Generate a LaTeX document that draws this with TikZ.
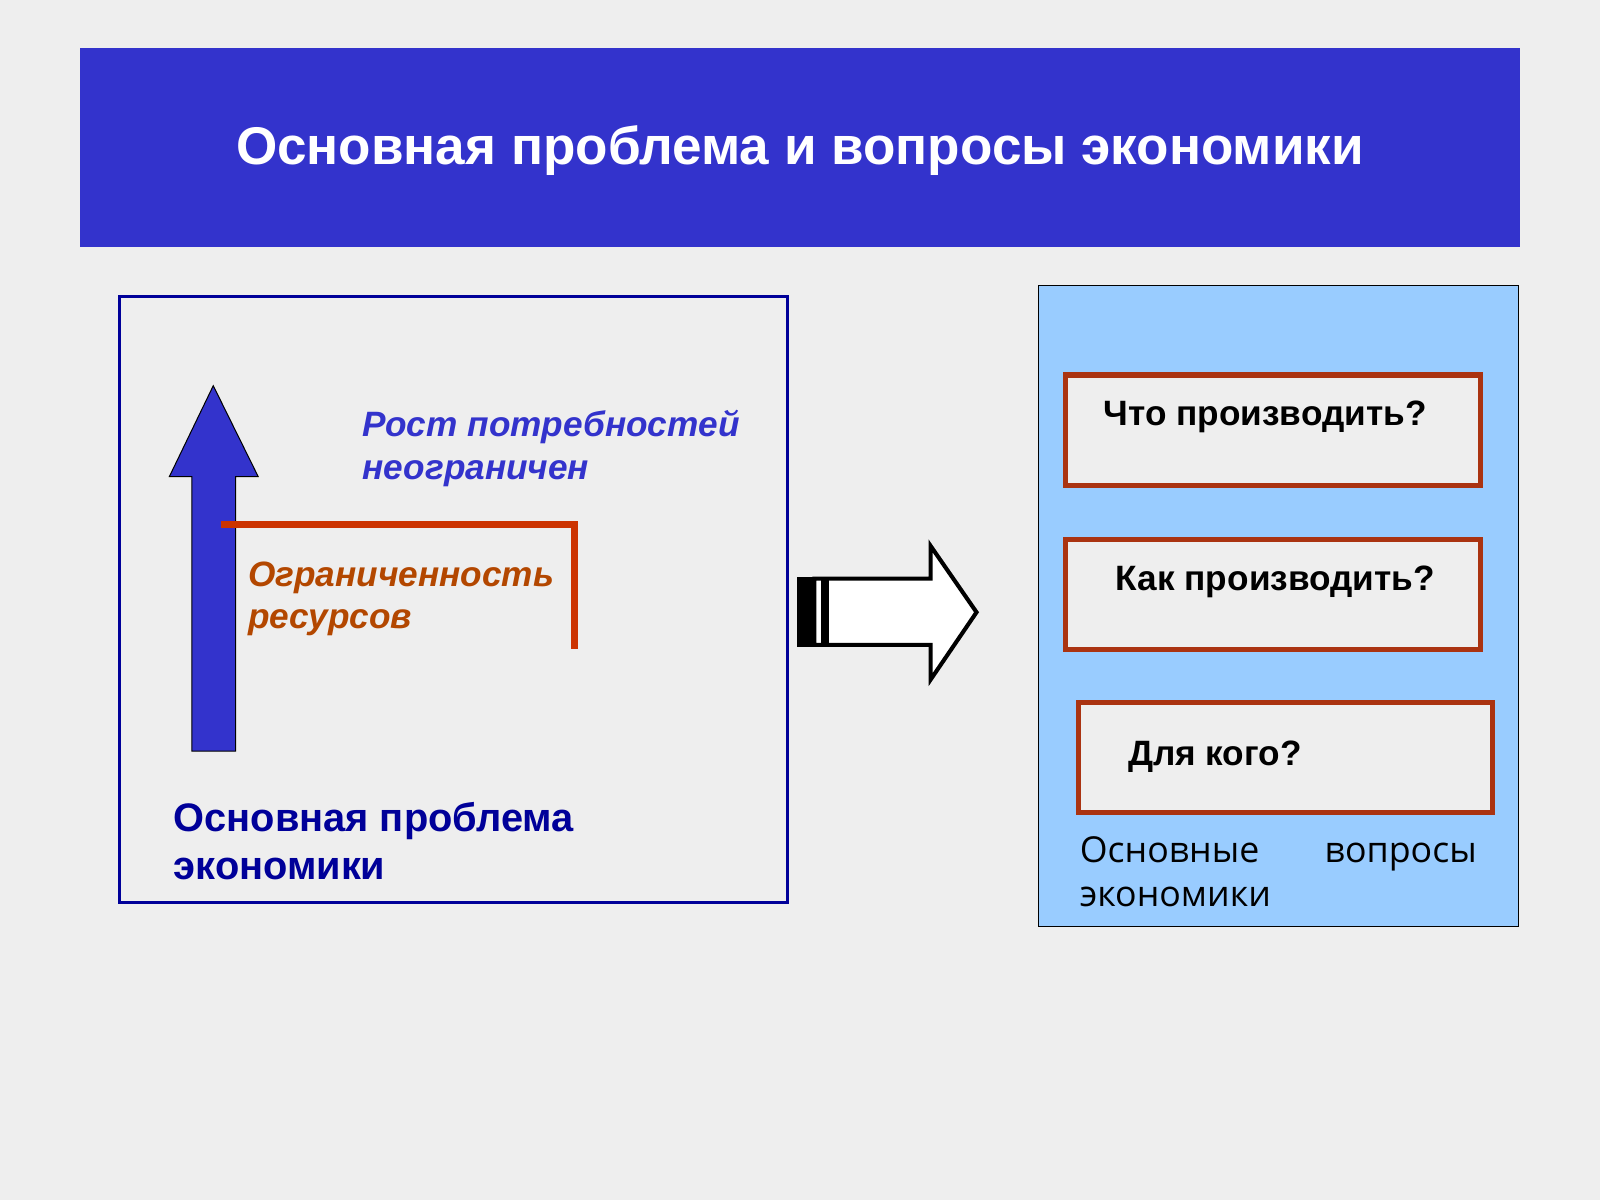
\documentclass[tikz,border=0pt]{standalone}
\usepackage{fontspec}
\setmainfont{Liberation Sans}
\newfontfamily\opensans{Open Sans}
\usetikzlibrary{arrows.meta}
\definecolor{titleblue}{HTML}{3333CC}
\definecolor{navy}{HTML}{000099}
\definecolor{rust}{HTML}{CC3300}
\definecolor{brownred}{HTML}{B34700}
\definecolor{panelblue}{HTML}{99CCFF}
\definecolor{bg}{HTML}{EEEEEE}
\definecolor{qborder}{HTML}{AA3311}
\begin{document}
\begin{tikzpicture}[x=1pt,y=-1pt,
    question/.style={draw=qborder,line width=5pt,fill=bg,minimum width=406pt,minimum height=108pt,inner sep=0pt},
    qtext/.style={anchor=west,font=\fontsize{34.5}{40}\selectfont\bfseries}]
        \fill[bg] (0,0) rectangle (1568,1176);
        \useasboundingbox (0,0) rectangle (1568,1176);

        \fill[titleblue] (78,47) rectangle (1490,242);
        \node[font=\fontsize{52}{58}\selectfont\bfseries,text=white] (title) at (784,148) {Основная проблема и вопросы экономики};

        % left part
        \draw[navy,line width=3pt] (117,291) rectangle (772,884);
        \draw[fill=titleblue,line width=1pt] (188,736) -- (188,467) -- (166,467) -- (209,378) -- (253,467) -- (231,467) -- (231,736) -- cycle;
        \coordinate (limA) at (217,514);
        \coordinate (limB) at (563,514);
        \coordinate (limC) at (563,636);
        \draw[rust,line width=6pt] (limA) -- (limB) -- (limC);
        \node[anchor=north west,align=left,text=titleblue,inner sep=0pt,font=\fontsize{34.5}{42}\selectfont\bfseries\itshape] (needs) at (355,402)
            {Рост потребностей\\неограничен};
        \node[anchor=north west,align=left,text=brownred,inner sep=0pt,font=\fontsize{34.5}{42}\selectfont\bfseries\itshape] (res) at (243,550)
            {Ограниченность\\ресурсов};
        \node[anchor=north west,align=left,text=navy,inner sep=0pt,font=\fontsize{39}{47}\selectfont\bfseries] (problem) at (170,786)
            {Основная проблема\\экономики};

        % big arrow
        \draw[fill=white,line width=4pt] (798,567) -- (912,567) -- (912,535) -- (957,600) -- (912,666) -- (912,632) -- (798,632) -- cycle;
        \fill (781,565) rectangle (798,634);
        \fill (805,567) rectangle (812,632);

        % right part
        \draw[fill=panelblue,line width=1pt] (1018,280) rectangle (1488,908);
        \node[question,anchor=north west] (what) at (1042,365) {};
        \node[question,anchor=north west] (how) at (1042,526) {};
        \node[question,anchor=north west] (whom) at (1054,686) {};
        \node[qtext] at (1078,409) {Что производить?};
        \node[qtext] at (1090,570) {Как производить?};
        \node[qtext] at (1102,742) {Для кого?};
        \node[anchor=north west,inner sep=0pt,text width=389pt,font=\opensans\fontsize{35}{43}\selectfont] (questions) at (1058,820)
            {Основные\hfill вопросы\\экономики};
\end{tikzpicture}
\end{document}
